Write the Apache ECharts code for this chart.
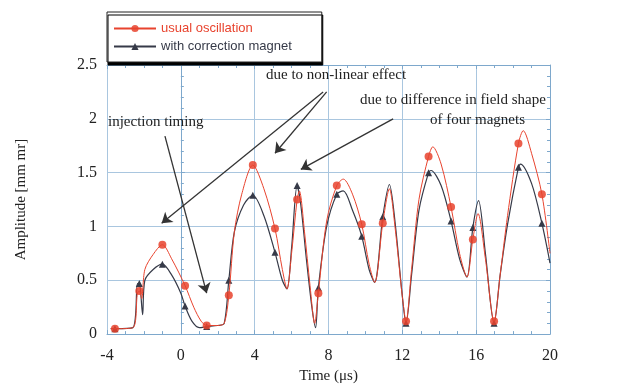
<!DOCTYPE html>
<html>
<head>
<meta charset="utf-8">
<script src="https://cdn.jsdelivr.net/npm/echarts@6/dist/echarts.min.js"></script>
<style>
  html, body { margin: 0; padding: 0; background: #fff; }
  #chart { width: 629px; height: 389px; }
</style>
</head>
<body>
<div id="chart"></div>
<script>
// time (us), amplitude (mm mr)
const usualCurve = [
  [-3.8, 0.05], [-3.57, 0.05], [-2.6, 0.06], [-2.35, 0.38], [-2.25, 0.40], [-2.12, 0.33],
  [-1.95, 0.60], [-1.5, 0.74], [-1.0, 0.83], [-0.5, 0.70], [0.23, 0.45], [0.7, 0.25],
  [1.1, 0.12], [1.4, 0.08], [2.0, 0.08], [2.35, 0.10], [2.6, 0.36], [2.9, 0.95],
  [3.3, 1.30], [3.9, 1.57], [4.5, 1.35], [5.1, 0.98], [5.5, 0.60], [5.75, 0.42],
  [6.0, 0.75], [6.3, 1.25], [6.42, 1.33], [6.7, 0.95], [7.0, 0.45], [7.25, 0.10],
  [7.45, 0.38], [7.9, 1.05], [8.45, 1.38], [8.8, 1.44], [9.3, 1.30], [9.8, 1.02],
  [10.2, 0.65], [10.5, 0.48], [10.94, 1.03], [11.3, 1.35], [11.6, 1.00], [12.0, 0.35],
  [12.2, 0.12], [12.5, 0.60], [12.9, 1.25], [13.42, 1.65], [13.65, 1.74], [14.1, 1.58],
  [14.64, 1.18], [15.1, 0.75], [15.5, 0.53], [15.82, 0.88], [16.1, 1.12], [16.5, 0.70],
  [16.97, 0.12], [17.3, 0.55], [17.7, 1.10], [18.29, 1.77], [18.55, 1.89], [19.0, 1.68],
  [19.56, 1.30], [20.0, 0.75]
];

const correctedCurve = [
  [-3.8, 0.05], [-3.57, 0.05], [-2.6, 0.06], [-2.35, 0.47], [-2.25, 0.47], [-2.07, 0.18],
  [-1.95, 0.50], [-1.5, 0.60], [-1.0, 0.65], [-0.5, 0.55], [0.0, 0.38], [0.23, 0.26],
  [0.6, 0.12], [1.0, 0.06], [1.4, 0.07], [2.0, 0.08], [2.35, 0.10], [2.6, 0.50],
  [2.9, 0.95], [3.4, 1.20], [3.9, 1.29], [4.5, 1.10], [5.1, 0.76], [5.5, 0.50],
  [5.75, 0.42], [6.0, 0.80], [6.3, 1.38], [6.5, 1.20], [6.8, 0.70], [7.1, 0.25],
  [7.3, 0.06], [7.45, 0.43], [7.9, 1.00], [8.45, 1.30], [8.8, 1.33], [9.3, 1.15],
  [9.8, 0.91], [10.2, 0.60], [10.5, 0.48], [10.94, 1.09], [11.3, 1.39], [11.6, 1.05],
  [12.0, 0.35], [12.2, 0.10], [12.5, 0.55], [12.9, 1.15], [13.42, 1.50], [13.55, 1.52],
  [14.1, 1.38], [14.64, 1.05], [15.1, 0.70], [15.5, 0.53], [15.82, 0.99], [16.13, 1.24],
  [16.5, 0.75], [16.97, 0.10], [17.3, 0.55], [17.7, 1.02], [18.29, 1.55], [18.4, 1.58],
  [19.0, 1.40], [19.56, 1.03], [20.0, 0.66]
];

// times at which the measured points carry a symbol
const markerTimes = [-3.57, -2.25, -1.0, 0.23, 1.4, 2.6, 3.9, 5.1, 6.3, 7.45, 8.45,
  9.8, 10.94, 12.2, 13.42, 14.64, 15.82, 16.97, 18.29, 19.56];

const xTicks = [-4, 0, 4, 8, 12, 16, 20];
const yTicks = [0, 0.5, 1, 1.5, 2, 2.5];

// arrows: [from, to] in (time, amplitude)
const arrows = [
  [[-0.86, 1.84], [1.40, 0.38]],
  [[7.71, 2.25], [-1.04, 1.03]],
  [[7.90, 2.25], [5.10, 1.68]],
  [[11.5, 2.0], [6.5, 1.53]]
];

const RED = '#e8432e';
const DARK = '#363a48';
const GRIDC = '#a9c6df';
const AXISC = '#7ea8cc';
const SERIF = '"Liberation Serif", "DejaVu Serif", serif';

function withMarkers(curve) {
  return curve.map(p => ({
    value: p,
    symbol: markerTimes.includes(p[0]) ? undefined : 'none'
  }));
}

const chart = echarts.init(document.getElementById('chart'));

const tickFmt = v => (Math.abs(v) < 1e-9 ? '0' : String(v));

chart.setOption({
  animation: false,
  grid: { left: 107, right: 79, top: 65, bottom: 49 },
  legend: {
    orient: 'vertical',
    left: 107,
    top: 12,
    padding: [10, 30, 9, 6],
    itemGap: 5,
    itemWidth: 42,
    itemHeight: 9,
    backgroundColor: '#fff',
    borderColor: '#222',
    borderWidth: 1,
    shadowColor: '#000',
    shadowBlur: 0,
    shadowOffsetX: 1,
    shadowOffsetY: 3,
    textStyle: { fontFamily: '"Liberation Sans", Arial, sans-serif', fontSize: 13 },
    data: [
      { name: 'usual oscillation', textStyle: { color: RED } },
      { name: 'with correction magnet', textStyle: { color: DARK } }
    ]
  },
  xAxis: [{
    type: 'value', min: -4, max: 20, interval: 4,
    name: 'Time (\u03bcs)', nameLocation: 'middle', nameGap: 33,
    nameTextStyle: { fontFamily: SERIF, fontSize: 15, color: '#222' },
    axisLine: { show: true, lineStyle: { color: AXISC } },
    axisTick: { show: true, inside: true, length: 4, lineStyle: { color: AXISC } },
    minorTick: { show: true, splitNumber: 4, length: 3, lineStyle: { color: AXISC } },
    axisLabel: { fontFamily: SERIF, fontSize: 16, color: '#222', margin: 14, formatter: tickFmt,
      customValues: xTicks },
    splitLine: { show: true, lineStyle: { color: GRIDC, width: 1 } }
  }, {
    type: 'value', min: -4, max: 20, interval: 4, position: 'top',
    axisLine: { show: true, onZero: false, lineStyle: { color: AXISC } },
    axisTick: { show: true, inside: true, length: 4, lineStyle: { color: AXISC } },
    minorTick: { show: true, splitNumber: 4, length: 3, lineStyle: { color: AXISC } },
    axisLabel: { show: false },
    splitLine: { show: false }
  }],
  yAxis: [{
    type: 'value', min: 0, max: 2.5, interval: 0.5,
    name: 'Amplitude [mm mr]', nameLocation: 'middle', nameGap: 78,
    nameTextStyle: { fontFamily: SERIF, fontSize: 15, color: '#222' },
    axisLine: { show: true, lineStyle: { color: AXISC } },
    axisTick: { show: true, inside: true, length: 4, lineStyle: { color: AXISC } },
    minorTick: { show: true, splitNumber: 5, length: 3, lineStyle: { color: AXISC } },
    axisLabel: { fontFamily: SERIF, fontSize: 16, color: '#222', margin: 10, formatter: tickFmt,
      customValues: yTicks },
    splitLine: { show: true, lineStyle: { color: GRIDC, width: 1 } }
  }, {
    type: 'value', min: 0, max: 2.5, interval: 0.5, position: 'right',
    axisLine: { show: true, onZero: false, lineStyle: { color: AXISC } },
    axisTick: { show: true, inside: true, length: 4, lineStyle: { color: AXISC } },
    minorTick: { show: true, splitNumber: 5, length: 3, lineStyle: { color: AXISC } },
    axisLabel: { show: false },
    splitLine: { show: false }
  }],
  graphic: [
    { type: 'text', left: 108, top: 115, z: 10, style: { text: 'injection timing', font: '15px ' + SERIF, fill: '#222' } },
    { type: 'text', left: 266, top: 68, z: 10, style: { text: 'due to non-linear effect', font: '15px ' + SERIF, fill: '#222' } },
    { type: 'text', left: 360, top: 93, z: 10, style: { text: 'due to difference in field shape', font: '15px ' + SERIF, fill: '#222' } },
    { type: 'text', left: 430, top: 113, z: 10, style: { text: 'of four magnets', font: '15px ' + SERIF, fill: '#222' } }
  ],
  series: [{
    name: 'usual oscillation',
    type: 'line',
    smooth: 0.3,
    symbol: 'circle',
    symbolSize: 8,
    showAllSymbol: true,
    itemStyle: { color: RED, opacity: 0.85 },
    lineStyle: { color: RED, width: 1 },
    data: withMarkers(usualCurve),
    z: 3
  }, {
    name: 'with correction magnet',
    type: 'line',
    smooth: 0.3,
    symbol: 'triangle',
    symbolSize: 7,
    showAllSymbol: true,
    itemStyle: { color: DARK },
    lineStyle: { color: DARK, width: 1.2 },
    data: withMarkers(correctedCurve),
    z: 2
  }, {
    name: 'arrows',
    type: 'line',
    data: [],
    silent: true,
    markLine: {
      silent: true,
      animation: false,
      symbol: ['none', 'arrow'],
      symbolSize: 10,
      label: { show: false },
      itemStyle: { color: '#333' },
      lineStyle: { color: '#333', width: 1.3, type: 'solid' },
      data: arrows.map(a => [{ coord: a[0] }, { coord: a[1] }])
    }
  }]
});
</script>
</body>
</html>
